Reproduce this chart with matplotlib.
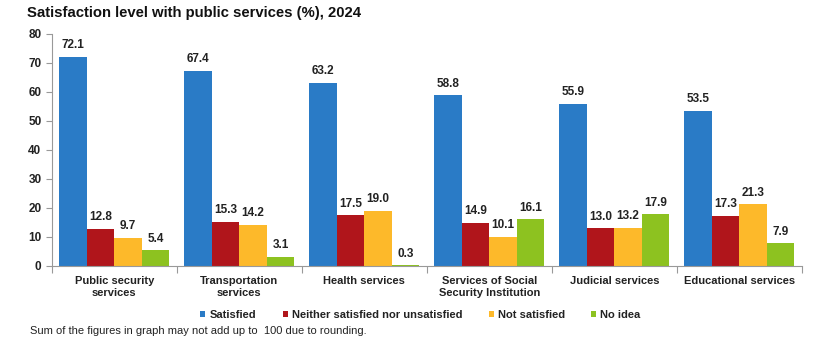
import numpy as np
import matplotlib.pyplot as plt

plt.rcParams['font.family'] = ['Liberation Sans', 'DejaVu Sans']

categories = ["Public security\nservices", "Transportation\nservices", "Health services",
              "Services of Social\nSecurity Institution", "Judicial services", "Educational services"]
series_names = ["Satisfied", "Neither satisfied nor unsatisfied", "Not satisfied", "No idea"]
satisfied = [72.1, 67.4, 63.2, 58.8, 55.9, 53.5]
neither = [12.8, 15.3, 17.5, 14.9, 13.0, 17.3]
not_satisfied = [9.7, 14.2, 19.0, 10.1, 13.2, 21.3]
no_idea = [5.4, 3.1, 0.3, 16.1, 17.9, 7.9]
colors = ["#2A7BC6", "#B0151B", "#FDB92A", "#8DC220"]

fig = plt.figure(figsize=(8.36, 3.43), dpi=100)
ax = fig.add_axes([0.062, 0.2245, 0.897, 0.6765])

x = np.arange(len(categories))
width = 0.22
offsets = (np.arange(4) - 1.5) * width
handles = []
for vals, name, col, off in zip([satisfied, neither, not_satisfied, no_idea],
                                series_names, colors, offsets):
    bars = ax.bar(x + off, vals, width, color=col, label=name)
    handles.append(bars)
    for b, v in zip(bars, vals):
        ax.annotate(f"{v:.1f}", (b.get_x() + b.get_width() / 2, v),
                    xytext=(0, 4), textcoords="offset points",
                    ha="center", va="bottom", fontsize=8.5, fontweight="bold",
                    color="#222222")

ax.set_xlim(-0.5, len(categories) - 0.5)
ax.set_ylim(0, 80)
ax.set_yticks(range(0, 81, 10))
ax.tick_params(axis="y", labelsize=8.5, colors="#999999", labelcolor="#222222",
               length=4, width=0.8, direction="out")
for lab in ax.get_yticklabels():
    lab.set_fontweight("bold")

# group separators on the x axis
ax.set_xticks(np.arange(-0.5, len(categories)), minor=False)
ax.set_xticklabels([])
ax.tick_params(axis="x", length=5, colors="#999999", width=0.8, direction="out")
for i, c in enumerate(categories):
    ax.text(i, -3.6, c, ha="center", va="top", fontsize=8, fontweight="bold",
            color="#222222", linespacing=1.2)

for s in ["top", "right"]:
    ax.spines[s].set_visible(False)
for s in ["left", "bottom"]:
    ax.spines[s].set_color("#999999")
    ax.spines[s].set_linewidth(0.8)

fig.text(0.032, 0.963, "Satisfaction level with public services (%), 2024",
         fontsize=10.7, fontweight="bold", ha="left", va="center", color="#111111")

leg = fig.legend(handles=handles, labels=series_names, loc="center",
                 bbox_to_anchor=(0.503, 0.082), ncol=4, frameon=False,
                 fontsize=8, handlelength=0.45, handleheight=0.45,
                 handletextpad=0.35, columnspacing=2.4)
for t in leg.get_texts():
    t.set_fontweight("bold")
    t.set_color("#222222")

fig.text(0.036, 0.034, "Sum of the figures in graph may not add up to  100 due to rounding.",
         fontsize=8, ha="left", va="center", color="#222222")

fig.savefig("out.png", dpi=100)
